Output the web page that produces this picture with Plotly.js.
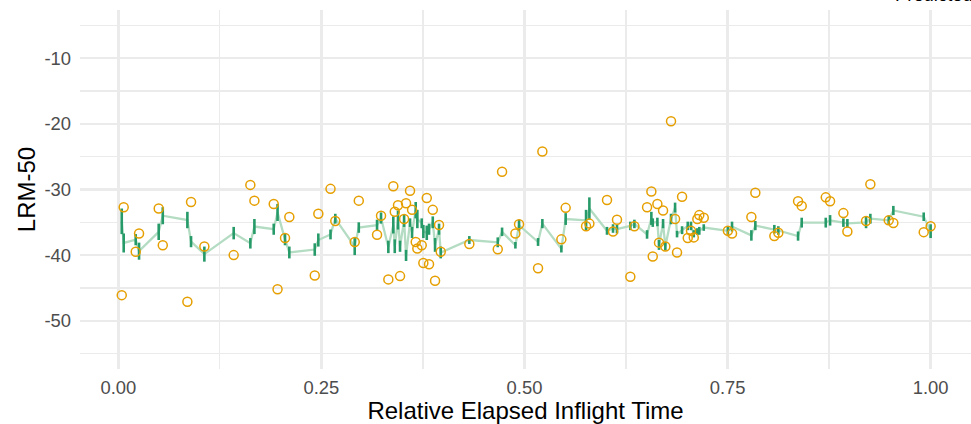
<!DOCTYPE html>
<html>
<head>
<meta charset="utf-8">
<script src="https://cdn.plot.ly/plotly-3.0.1.min.js"></script>
<style>
  html, body { margin: 0; padding: 0; background: #ffffff; }
  #chart { width: 971px; height: 424px; }
</style>
</head>
<body>
<div id="chart"></div>
<script>
// Observation times (relative elapsed inflight time)
var timePoints = [
  0.0042, 0.0066, 0.0214, 0.0255, 0.0497, 0.0547, 0.0850, 0.0895, 0.1059, 0.1420,
  0.1625, 0.1675, 0.1913, 0.1960, 0.2052, 0.2105, 0.2418, 0.2462, 0.2612, 0.2671,
  0.2910, 0.2960, 0.3185, 0.3234, 0.3324, 0.3385, 0.3403, 0.3443, 0.3468, 0.3518,
  0.3542, 0.3591, 0.3616, 0.3661, 0.3681, 0.3735, 0.3755, 0.3797, 0.3825, 0.3871,
  0.3899, 0.3948, 0.3969, 0.4321, 0.4671, 0.4724, 0.4888, 0.4933, 0.5167, 0.5220,
  0.5454, 0.5507, 0.5758, 0.5799, 0.6016, 0.6090, 0.6139, 0.6303, 0.6353, 0.6509,
  0.6562, 0.6579, 0.6636, 0.6656, 0.6706, 0.6734, 0.6804, 0.6854, 0.6878, 0.6940,
  0.7010, 0.7050, 0.7084, 0.7128, 0.7152, 0.7207, 0.7504, 0.7555, 0.7793, 0.7842,
  0.8076, 0.8125, 0.8368, 0.8413, 0.8709, 0.8762, 0.8926, 0.8975, 0.9205, 0.9258,
  0.9484, 0.9541, 0.9915, 1.0000
];

// Observed LRM-50 values
var observed = [
  -46.1, -32.7, -39.5, -36.7, -32.9, -38.5, -47.1, -31.9, -38.7, -40.0,
  -29.3, -31.7, -32.2, -45.2, -37.4, -34.2, -43.1, -33.7, -29.9, -34.8,
  -38.0, -31.7, -36.9, -34.0, -43.7, -29.5, -33.4, -32.4, -43.2, -34.5,
  -32.1, -30.2, -33.1, -38.0, -39.0, -38.5, -41.2, -31.3, -41.4, -33.1,
  -43.9, -35.4, -39.5, -38.3, -39.1, -27.3, -36.7, -35.3, -42.0, -24.2,
  -37.6, -32.8, -35.6, -35.2, -31.6, -36.4, -34.6, -43.3, -35.6, -32.7,
  -30.3, -40.2, -32.2, -38.1, -33.2, -38.7, -19.6, -34.5, -39.6, -31.1,
  -37.4, -36.3, -37.3, -34.5, -33.9, -34.3, -36.3, -36.7, -34.2, -30.5,
  -37.1, -36.6, -31.8, -32.5, -31.2, -31.8, -33.6, -36.4, -34.8, -29.2,
  -34.7, -35.1, -36.5, -35.6
];

// Predicted mean
var predicted = [
  -34.85, -38.15, -37.65, -39.40, -36.45, -34.00, -34.65, -37.95, -39.85, -36.65,
  -38.20, -35.65, -36.05, -33.50, -37.60, -39.60, -39.15, -37.70, -36.85, -34.45,
  -38.70, -35.80, -35.45, -34.35, -38.75, -35.40, -38.65, -34.65, -38.65, -34.75,
  -40.05, -35.05, -36.55, -33.15, -34.50, -35.15, -36.40, -36.60, -36.05, -35.00,
  -38.45, -36.05, -39.60, -37.70, -38.05, -36.45, -38.50, -35.45, -38.00, -35.20,
  -39.05, -34.50, -34.70, -32.90, -36.30, -35.95, -36.05, -35.55, -35.25, -36.85,
  -34.40, -35.05, -34.95, -38.45, -35.20, -38.65, -34.50, -32.75, -36.80, -36.20,
  -35.55, -35.55, -36.75, -36.40, -36.30, -35.80, -36.30, -35.65, -37.00, -35.50,
  -36.05, -36.25, -37.10, -35.05, -35.05, -34.70, -35.05, -35.15, -35.00, -34.45,
  -34.70, -33.20, -34.15, -36.35
];

// Predicted interval: lower and upper bounds
var predLower = [
  -36.8, -39.6, -38.5, -40.7, -37.7, -35.3, -35.9, -38.8, -41.0, -37.6,
  -39.0, -36.8, -36.9, -34.8, -38.5, -40.5, -40.1, -38.7, -37.6, -35.2,
  -40.0, -36.6, -36.3, -35.2, -39.7, -36.7, -39.7, -36.1, -39.5, -35.7,
  -40.9, -35.7, -37.4, -34.4, -35.9, -35.9, -37.4, -37.7, -36.9, -35.9,
  -39.5, -36.9, -40.5, -38.3, -38.8, -37.1, -39.0, -36.3, -38.6, -35.9,
  -39.6, -35.4, -36.3, -34.6, -36.9, -36.6, -36.7, -36.2, -35.9, -37.5,
  -35.4, -35.7, -35.6, -39.2, -35.9, -39.3, -35.3, -33.5, -37.3, -36.8,
  -36.2, -36.2, -37.3, -36.9, -36.9, -36.3, -36.9, -36.4, -37.8, -36.2,
  -36.7, -36.9, -37.8, -35.8, -35.8, -35.5, -35.7, -35.8, -35.9, -35.2,
  -35.4, -33.9, -34.8, -37.4
];
var predUpper = [
  -32.9, -36.7, -36.8, -38.1, -35.2, -32.7, -33.4, -37.1, -38.7, -35.7,
  -37.4, -34.5, -35.2, -32.2, -36.7, -38.7, -38.2, -36.7, -36.1, -33.7,
  -37.4, -35.0, -34.6, -33.5, -37.8, -34.1, -37.6, -33.2, -37.8, -33.8,
  -39.2, -34.4, -35.7, -31.9, -33.1, -34.4, -35.4, -35.5, -35.2, -34.1,
  -37.4, -35.2, -38.7, -37.1, -37.3, -35.8, -38.0, -34.6, -37.4, -34.5,
  -38.5, -33.6, -33.1, -31.2, -35.7, -35.3, -35.4, -34.9, -34.6, -36.2,
  -33.4, -34.4, -34.3, -37.7, -34.5, -38.0, -33.7, -32.0, -36.3, -35.6,
  -34.9, -34.9, -36.2, -35.9, -35.7, -35.3, -35.7, -34.9, -36.2, -34.8,
  -35.4, -35.6, -36.4, -34.3, -34.3, -33.9, -34.4, -34.5, -34.1, -33.7,
  -34.0, -32.5, -33.5, -35.3
];

var yTickValues = [-50, -40, -30, -20, -10];
var yTickLabels = ['-50', '-40', '-30', '-20', '-10'];
var xTickValues = [0, 0.25, 0.5, 0.75, 1];
var xTickLabels = ['0.00', '0.25', '0.50', '0.75', '1.00'];

// Build interval segments (x, x, null) / (low, high, null)
var segX = [], segY = [];
for (var i = 0; i < timePoints.length; i++) {
  segX.push(timePoints[i], timePoints[i], null);
  segY.push(predLower[i], predUpper[i], null);
}

var traces = [
  {
    type: 'scatter', mode: 'lines', name: 'Predicted mean',
    x: timePoints, y: predicted,
    line: { color: '#B3DCC3', width: 2.3 },
    hoverinfo: 'skip', showlegend: false
  },
  {
    type: 'scatter', mode: 'lines', name: 'Predicted',
    x: segX, y: segY, connectgaps: false,
    line: { color: '#269A68', width: 2.6 },
    showlegend: false
  },
  {
    type: 'scatter', mode: 'markers', name: 'Observed',
    x: timePoints, y: observed,
    marker: { symbol: 'circle-open', size: 9, color: '#E69F00', line: { width: 1.5, color: '#E69F00' } },
    showlegend: false
  }
];

var gridMajor = '#EBEBEB';
var layout = {
  width: 971, height: 424,
  margin: { l: 80, r: 0, t: 10, b: 55, pad: 0 },
  paper_bgcolor: '#ffffff', plot_bgcolor: '#ffffff',
  font: { family: 'Liberation Sans, Arial, sans-serif', color: '#000000' },
  showlegend: false,
  xaxis: {
    range: [-0.0472, 1.0497],
    tickvals: xTickValues, ticktext: xTickLabels,
    ticks: '', showline: false, zeroline: false,
    showgrid: true, gridcolor: gridMajor, gridwidth: 2.4,
    minor: { dtick: 0.125, tick0: 0, showgrid: true, gridcolor: gridMajor, gridwidth: 1.2, ticks: '' },
    tickfont: { size: 18.4, color: '#4D4D4D' },
    ticklabelstandoff: 6,
    title: { text: 'Relative Elapsed Inflight Time', font: { size: 24, color: '#000000' }, standoff: 7 }
  },
  yaxis: {
    range: [-57.36, -2.64],
    tickvals: yTickValues, ticktext: yTickLabels,
    ticks: '', showline: false, zeroline: false,
    showgrid: true, gridcolor: gridMajor, gridwidth: 2.4,
    minor: { dtick: 5, tick0: 0, showgrid: true, gridcolor: gridMajor, gridwidth: 1.2, ticks: '' },
    tickfont: { size: 18.4, color: '#4D4D4D' },
    ticklabelstandoff: 8,
    title: { text: 'LRM-50', font: { size: 24, color: '#000000' }, standoff: 2 }
  },
  annotations: [
    {
      xref: 'paper', yref: 'paper', x: 0.913, y: 1.043,
      xanchor: 'left', yanchor: 'middle', showarrow: false,
      text: 'Predicted', font: { size: 18.4, color: '#000000' }
    }
  ]
};

Plotly.newPlot('chart', traces, layout, { displayModeBar: false, staticPlot: true });
</script>
</body>
</html>
